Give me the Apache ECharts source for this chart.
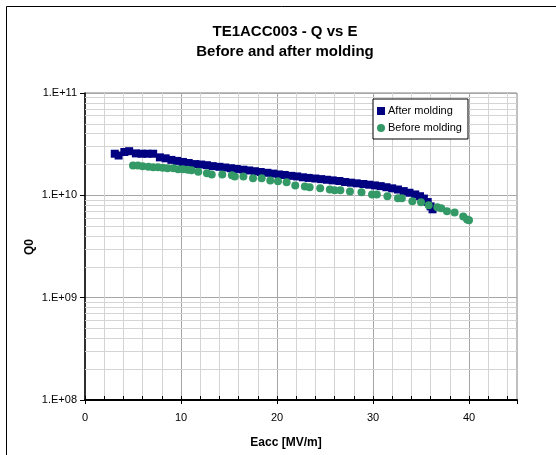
<!DOCTYPE html>
<html>
<head>
<meta charset="utf-8">
<script src="https://cdn.jsdelivr.net/npm/echarts@6/dist/echarts.min.js"></script>
<style>
html,body{margin:0;padding:0;background:#fff;}
#chart{width:556px;height:455px;}
</style>
</head>
<body>
<div id="chart"></div>
<script>
// ---- data ----
const titleLine1 = 'TE1ACC003 - Q vs E';
const titleLine2 = 'Before and after molding';
const xName = 'Eacc [MV/m]';
const yName = 'Q0';
const seriesNames = ['After molding', 'Before molding'];

const eAfter = [3.1, 3.5, 4.1, 4.6, 5.3, 5.9, 6.5, 7.1, 7.8, 8.4, 9.0, 9.6, 10.2, 10.8, 11.5, 12.1, 12.7, 13.3, 14.0, 14.6,
  15.2, 15.8, 16.5, 17.1, 17.7, 18.3, 19.0, 19.6, 20.2, 20.8, 21.5, 22.1, 22.7, 23.3, 24.0, 24.6, 25.2, 25.8, 26.5, 27.1,
  27.7, 28.3, 29.0, 29.6, 30.2, 30.8, 31.4, 32.0, 32.6, 33.2, 33.8, 34.4, 34.9, 35.3, 35.7, 36.0, 36.2];
const qAfter = [2.55e10, 2.45e10, 2.65e10, 2.7e10, 2.57e10, 2.55e10, 2.55e10, 2.55e10, 2.35e10, 2.3e10, 2.22e10, 2.17e10,
  2.12e10, 2.07e10, 2.02e10, 2.0e10, 1.97e10, 1.93e10, 1.9e10, 1.87e10, 1.84e10, 1.81e10, 1.78e10, 1.75e10, 1.72e10,
  1.69e10, 1.66e10, 1.63e10, 1.6e10, 1.58e10, 1.55e10, 1.53e10, 1.5e10, 1.48e10, 1.46e10, 1.44e10, 1.42e10, 1.4e10,
  1.38e10, 1.35e10, 1.33e10, 1.31e10, 1.29e10, 1.27e10, 1.25e10, 1.23e10, 1.2e10, 1.17e10, 1.14e10, 1.1e10, 1.06e10,
  1.02e10, 0.98e10, 0.93e10, 0.86e10, 0.78e10, 0.73e10];

const eBefore = [5.0, 5.5, 6.0, 6.6, 7.1, 7.6, 8.1, 8.6, 9.2, 9.7, 10.2, 10.7, 11.1, 11.8, 12.7, 13.2, 14.3, 15.3, 15.6,
  16.5, 17.5, 18.4, 19.3, 20.1, 21.0, 21.9, 22.9, 23.4, 24.5, 25.5, 26.0, 26.6, 27.6, 28.8, 29.9, 30.4, 31.5, 32.6, 33.0,
  34.1, 35.0, 35.8, 36.7, 37.1, 37.7, 38.5, 39.4, 39.8, 40.0];
const qBefore = [1.96e10, 1.96e10, 1.92e10, 1.9e10, 1.88e10, 1.88e10, 1.86e10, 1.84e10, 1.84e10, 1.8e10, 1.8e10, 1.78e10,
  1.76e10, 1.7e10, 1.64e10, 1.6e10, 1.6e10, 1.57e10, 1.53e10, 1.53e10, 1.47e10, 1.47e10, 1.4e10, 1.37e10, 1.34e10,
  1.25e10, 1.22e10, 1.2e10, 1.17e10, 1.14e10, 1.12e10, 1.12e10, 1.09e10, 1.07e10, 1.02e10, 1.02e10, 0.98e10, 0.935e10,
  0.935e10, 0.874e10, 0.855e10, 0.8e10, 0.763e10, 0.746e10, 0.7e10, 0.68e10, 0.62e10, 0.58e10, 0.57e10];

const xMin = 0, xMax = 45, xMajor = 10, xMinor = 2;
const yMin = 1e8, yMax = 1e11;
// minor log grid positions (2..9 x 10^n)
const yMinorMultipliers = [2, 3, 4, 5, 6, 7, 8, 9];
const yDecades = [1e8, 1e9, 1e10];

// ---- build ----
const afterData = eAfter.map((e, i) => [e, qAfter[i]]);
const beforeData = eBefore.map((e, i) => [e, qBefore[i]]);
const minorLines = [];
yDecades.forEach(d => yMinorMultipliers.forEach(m => minorLines.push({ yAxis: m * d })));

const font = '"Liberation Sans", Arial, sans-serif';
const lightGrid = '#d4d4d4';
const darkGrid = '#a6a6a6';

const chart = echarts.init(document.getElementById('chart'), null, { renderer: 'canvas' });
chart.setOption({
  animation: false,
  backgroundColor: '#fff',
  textStyle: { fontFamily: font },
  graphic: [
    { type: 'polyline', silent: true, z: -10, shape: { points: [[6.5, 460], [6.5, 6.5], [560, 6.5]] }, style: { fill: 'none', stroke: '#000', lineWidth: 1 } },
    { type: 'text', x: 285, y: 32, style: { text: titleLine1, font: 'bold 15px ' + font, fill: '#000', align: 'center', verticalAlign: 'middle' } },
    { type: 'text', x: 285, y: 52, style: { text: titleLine2, font: 'bold 15px ' + font, fill: '#000', align: 'center', verticalAlign: 'middle' } },
    { type: 'text', x: 30, y: 247, rotation: Math.PI / 2, style: { text: yName, font: 'bold 12px ' + font, fill: '#000', align: 'center', verticalAlign: 'middle' } }
  ],
  grid: { left: 85, top: 93, width: 432, height: 307, show: true, borderColor: '#808080', borderWidth: 1, backgroundColor: 'transparent' },
  legend: {
    left: 373, top: 99, orient: 'vertical',
    backgroundColor: '#fff', borderColor: '#000', borderWidth: 1,
    padding: [6, 6, 5, 4], itemGap: 5, itemWidth: 8, itemHeight: 8,
    textStyle: { fontSize: 11, color: '#000', fontFamily: font, padding: [0, 0, 0, -2], lineHeight: 12 },
    data: [{ name: seriesNames[0], icon: 'rect' }, { name: seriesNames[1], icon: 'circle' }]
  },
  xAxis: [
    {
      type: 'value', min: xMin, max: xMax, interval: xMinor, position: 'bottom',
      name: xName, nameLocation: 'middle', nameGap: 37,
      nameTextStyle: { fontWeight: 'bold', fontSize: 12, color: '#000', fontFamily: font, padding: [0, 0, 0, -30] },
      axisLine: { show: true, lineStyle: { color: '#000', width: 2 } },
      axisTick: { show: true, inside: true, length: 4, lineStyle: { color: '#000' } },
      axisLabel: { fontSize: 11, color: '#000', margin: 12, showMaxLabel: false,
        formatter: v => (v % xMajor === 0 ? String(v) : '') },
      splitLine: { show: true, showMinLine: false, showMaxLine: false,
        lineStyle: { color: [lightGrid, lightGrid, lightGrid, lightGrid, darkGrid], width: 1 } }
    },
    {
      type: 'value', min: xMin, max: xMax, interval: xMajor, position: 'bottom', offset: 0,
      axisLine: { show: false },
      axisTick: { show: true, inside: false, length: 4, lineStyle: { color: '#000' } },
      axisLabel: { show: false },
      splitLine: { show: false }
    }
  ],
  yAxis: {
    type: 'log', logBase: 10, min: yMin, max: yMax,
    axisLine: { show: true, lineStyle: { color: '#000', width: 1.5 } },
    axisTick: { show: true, inside: false, length: 5, lineStyle: { color: '#000' } },
    axisLabel: { fontSize: 11, color: '#000', margin: 8,
      formatter: v => '1.E+' + String(Math.round(Math.log10(v))).padStart(2, '0') },
    splitLine: { show: true, lineStyle: { color: darkGrid, width: 1 } }
  },
  series: [
    {
      name: seriesNames[0], type: 'scatter', xAxisIndex: 0, symbol: 'rect', symbolSize: 8,
      itemStyle: { color: '#000080', opacity: 1 }, data: afterData, z: 3,
      markLine: {
        silent: true, symbol: 'none', z: 1, animation: false,
        label: { show: false }, emphasis: { disabled: true },
        lineStyle: { color: lightGrid, type: 'solid', width: 1 },
        data: minorLines
      }
    },
    {
      name: seriesNames[1], type: 'scatter', xAxisIndex: 0, symbol: 'circle', symbolSize: 8,
      itemStyle: { color: '#339966', opacity: 1 }, data: beforeData, z: 4
    }
  ]
});
</script>
</body>
</html>
